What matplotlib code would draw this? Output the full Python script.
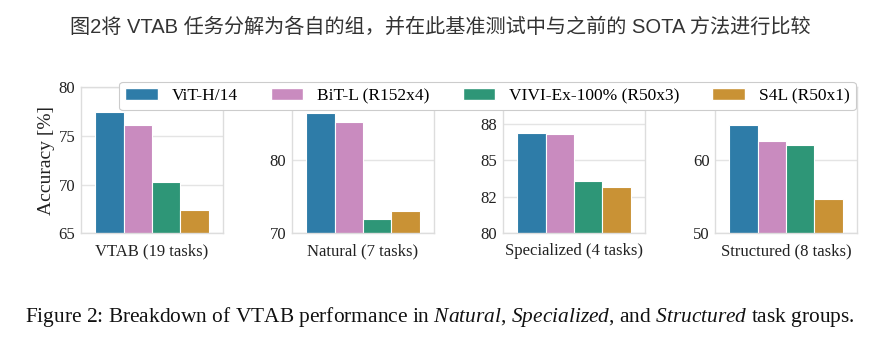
"""VTAB breakdown: ViT-H/14 vs previous SOTA on the task groups."""

import matplotlib

matplotlib.use("Agg")
import matplotlib.pyplot as plt
from matplotlib.patches import Patch
from matplotlib.ticker import FormatStrFormatter

# ---- data ------------------------------------------------------------------ #
models = ["ViT-H/14", "BiT-L (R152x4)", "VIVI-Ex-100% (R50x3)", "S4L (R50x1)"]
colors = ["#2e7ca8", "#c98bbf", "#2e9677", "#c99235"]

groups = ["VTAB (19 tasks)", "Natural (7 tasks)",
          "Specialized (4 tasks)", "Structured (8 tasks)"]
vtab = [77.5, 76.1, 70.3, 67.4]
natural = [86.5, 85.3, 72.0, 73.0]
specialized = [86.9, 86.8, 83.6, 83.2]
structured = [64.9, 62.6, 62.1, 54.7]

ylims = [(65, 80), (70, 90), (80, 90), (50, 70)]
yticks = [[65, 70, 75, 80], [70, 80, 90], [80, 82.5, 85, 87.5], [50, 60, 70]]

title_cn = "图2将 VTAB 任务分解为各自的组，并在此基准测试中与之前的 SOTA 方法进行比较"

plt.rcParams["font.family"] = ["Liberation Serif", "DejaVu Serif"]
plt.rcParams["mathtext.fontset"] = "custom"
plt.rcParams["mathtext.rm"] = "Liberation Serif"
plt.rcParams["mathtext.it"] = "Liberation Serif:italic"

W, H = 889, 338
fig = plt.figure(figsize=(W / 100, H / 100), dpi=100)

lefts = [81, 292, 503, 715]
values = [vtab, natural, specialized, structured]
for i, (lx, vals) in enumerate(zip(lefts, values)):
    ax = fig.add_axes([lx / W, (H - 233.3) / H, 142 / W, 146 / H])
    xs = [-0.3, -0.1, 0.1, 0.3]
    ax.bar(xs, vals, width=0.2, color=colors, edgecolor="white", linewidth=0.8,
           zorder=2)
    ax.set_xlim(-0.5, 0.5)
    ax.set_ylim(*ylims[i])
    ax.set_yticks(yticks[i])
    ax.yaxis.set_major_formatter(FormatStrFormatter("%.0f"))
    ax.set_xticks([])
    ax.set_xlabel(groups[i], fontsize=12, labelpad=7, color="#222222")
    ax.tick_params(axis="y", length=0, pad=4, labelsize=12, labelcolor="#222222")
    ax.grid(axis="y", color="#e4e4e4", lw=1, zorder=0)
    for s in ax.spines.values():
        s.set_color("#dddddd")
        s.set_linewidth(1)
    if i == 0:
        ax.set_ylabel("Accuracy [%]", fontsize=14, labelpad=3, color="#222222")

handles = [Patch(facecolor=c, edgecolor="white") for c in colors]
leg = fig.legend(handles, models, loc="center", ncol=4,
                 bbox_to_anchor=(487.5 / W, (H - 96) / H),
                 fontsize=12.5, frameon=True, framealpha=1, edgecolor="#cccccc",
                 handlelength=1.87, handleheight=0.63, columnspacing=1.9,
                 handletextpad=0.8, borderpad=0.35)
leg.get_frame().set_linewidth(0.8)

fig.text(440 / W, 1 - 27 / H, title_cn, ha="center", va="center",
         fontsize=14.5, color="#333333",
         family=["Liberation Sans", "Noto Sans CJK SC"])

caption = (r"Figure 2: Breakdown of VTAB performance in $Natural$, "
           r"$Specialized$, and $Structured$ task groups.")
fig.text(25 / W, 1 - 317 / H, caption, ha="left", va="center",
         fontsize=15.4, color="#111111")

fig.savefig("out.png", dpi=100)
